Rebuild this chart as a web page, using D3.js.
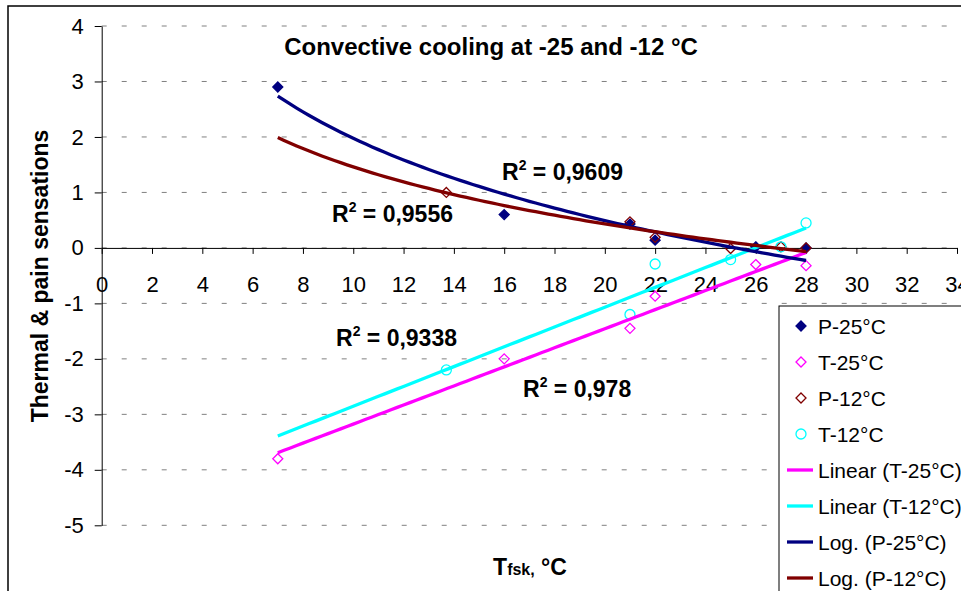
<!DOCTYPE html>
<html>
<head>
<meta charset="utf-8">
<script src="https://cdn.jsdelivr.net/npm/d3@7"></script>
<style>
    body { margin: 0; background: #fff; }
    svg { display: block; font-family: Arial, "Liberation Sans", sans-serif; }
    .grid { stroke: #808080; stroke-width: 1; stroke-dasharray: 5, 15; }
    .axis path, .axis line { stroke: #000; stroke-width: 1; }
    .axis text { font-size: 22px; fill: #000; font-family: Arial, "Liberation Sans", sans-serif; }
    .bold { font-weight: bold; }
</style>
</head>
<body>
<svg id="chart-svg" width="961" height="591"></svg>
<script>
// values
const xTicks = [0, 2, 4, 6, 8, 10, 12, 14, 16, 18, 20, 22, 24, 26, 28, 30, 32, 34];
const yTicks = [4, 3, 2, 1, 0, -1, -2, -3, -4, -5];

const xP25 = [7, 16, 21, 22, 26, 28];
const yP25 = [2.9, 0.6, 0.43, 0.14, 0.02, 0];
const xT25 = [7, 16, 21, 22, 26, 28];
const yT25 = [-3.8, -2.0, -1.45, -0.87, -0.3, -0.32];
const xP12 = [13.7, 21, 22, 25, 27, 28];
const yP12 = [1.0, 0.47, 0.19, -0.01, 0.02, 0];
const xT12 = [13.7, 21, 22, 25, 27, 28];
const yT12 = [-2.2, -1.2, -0.29, -0.21, 0.02, 0.45];

const seriesNames = ["P-25°C", "T-25°C", "P-12°C", "T-12°C"];
const trendNames = ["Linear (T-25°C)", "Linear (T-12°C)", "Log. (P-25°C)", "Log. (P-12°C)"];
const r2Labels = ["0,9609", "0,9556", "0,9338", "0,978"];
const trendRange = [7, 28];

const title = "Convective cooling at -25 and -12 °C";
const yTitle = "Thermal & pain sensations";

class Chart
{
    constructor()
    {
        this.svg = d3.select("#chart-svg");
        this.x = d3.scaleLinear().domain([0, 34]).range([101.7, 957]);
        this.y = d3.scaleLinear().domain([-5, 4]).range([525.3, 26]);
        this.colors = {navy: "#000080", magenta: "#ff00ff", darkred: "#800000", cyan: "#00ffff"};
    }

    // least squares fit, optionally on ln(x)
    fit(xs, ys, useLog)
    {
        const u = xs.map(v => useLog ? Math.log(v) : v);
        const mu = d3.mean(u), my = d3.mean(ys);
        let sxx = 0, sxy = 0;
        u.forEach((v, i) => { sxx += (v - mu) * (v - mu); sxy += (v - mu) * (ys[i] - my); });
        const a = sxy / sxx, b = my - a * mu;
        return t => a * (useLog ? Math.log(t) : t) + b;
    }

    draw()
    {
        const svg = this.svg, x = this.x, y = this.y;

        // outer chart border, only top and left are in view
        svg.append("rect")
            .attr("x", 8).attr("y", 6).attr("width", 1200).attr("height", 1200)
            .attr("fill", "none").attr("stroke", "#000").attr("stroke-width", 1.5);

        svg.selectAll(".grid")
            .data(yTicks)
            .join("line")
            .attr("class", "grid")
            .attr("x1", x(0)).attr("x2", x(34))
            .attr("y1", d => y(d)).attr("y2", d => y(d));

        svg.append("g")
            .attr("class", "axis")
            .attr("transform", `translate(${x(0)},0)`)
            .call(d3.axisLeft(y).tickValues(yTicks).tickSize(7).tickSizeOuter(0).tickPadding(11).tickFormat(d => String(d)));

        svg.append("g")
            .attr("class", "axis")
            .attr("transform", `translate(0,${y(0)})`)
            .call(d3.axisBottom(x).tickValues(xTicks).tickSize(6).tickSizeOuter(0).tickPadding(22).tickFormat(d => String(d)));

        svg.selectAll(".axis text").attr("font-family", null).attr("font-size", null);

        this.drawMarkers();
        this.drawTrends();
        this.drawLabels();
        this.drawLegend();
    }

    marker(g, type, color, cx, cy)
    {
        if (type === "circle") {
            g.append("circle").attr("cx", cx).attr("cy", cy).attr("r", 5)
                .attr("fill", "none").attr("stroke", color).attr("stroke-width", 1.3);
        } else {
            const s = 5;
            g.append("path")
                .attr("d", `M${cx},${cy - s}L${cx + s},${cy}L${cx},${cy + s}L${cx - s},${cy}Z`)
                .attr("fill", type === "filled" ? color : "none")
                .attr("stroke", color).attr("stroke-width", 1.3);
        }
    }

    drawMarkers()
    {
        const g = this.svg.append("g"), x = this.x, y = this.y, c = this.colors;
        xP25.forEach((v, i) => this.marker(g, "filled", c.navy, x(v), y(yP25[i])));
        xT25.forEach((v, i) => this.marker(g, "open", c.magenta, x(v), y(yT25[i])));
        xP12.forEach((v, i) => this.marker(g, "open", c.darkred, x(v), y(yP12[i])));
        xT12.forEach((v, i) => this.marker(g, "circle", c.cyan, x(v), y(yT12[i])));
    }

    drawTrends()
    {
        const x = this.x, y = this.y, c = this.colors;
        const ts = d3.range(trendRange[0], trendRange[1] + 0.001, 0.25);
        const trends = [
            {f: this.fit(xT25, yT25, false), color: c.magenta},
            {f: this.fit(xT12, yT12, false), color: c.cyan},
            {f: this.fit(xP25, yP25, true), color: c.navy},
            {f: this.fit(xP12, yP12, true), color: c.darkred}
        ];
        const line = d3.line().x(d => x(d[0])).y(d => y(d[1]));

        this.svg.append("g").selectAll("path")
            .data(trends)
            .join("path")
            .attr("d", d => line(ts.map(t => [t, d.f(t)])))
            .attr("fill", "none")
            .attr("stroke", d => d.color)
            .attr("stroke-width", 3.3);
    }

    drawLabels()
    {
        const svg = this.svg;

        svg.append("text")
            .attr("class", "bold")
            .attr("x", 491).attr("y", 55)
            .attr("text-anchor", "middle")
            .attr("font-size", 24)
            .text(title);

        svg.append("text")
            .attr("class", "bold")
            .attr("transform", "translate(48,276) rotate(-90)")
            .attr("text-anchor", "middle")
            .attr("font-size", 23)
            .text(yTitle);

        const xt = svg.append("text")
            .attr("class", "bold")
            .attr("x", 530).attr("y", 575)
            .attr("text-anchor", "middle")
            .attr("font-size", 23);
        xt.append("tspan").text("T");
        xt.append("tspan").attr("font-size", 16).text("fsk,");
        xt.append("tspan").text(" °C");

        const r2Pos = [[502, 180], [332, 222], [336, 346], [523, 397]];
        r2Labels.forEach((lab, i) => {
            const t = svg.append("text")
                .attr("class", "bold")
                .attr("x", r2Pos[i][0]).attr("y", r2Pos[i][1])
                .attr("font-size", 23);
            t.append("tspan").text("R");
            t.append("tspan").attr("font-size", 14).attr("dy", -10).text("2");
            t.append("tspan").attr("dy", 10).text(" = " + lab);
        });
    }

    drawLegend()
    {
        const svg = this.svg, c = this.colors;
        const g = svg.append("g");

        g.append("rect")
            .attr("x", 779).attr("y", 306).attr("width", 400).attr("height", 400)
            .attr("fill", "#fff").attr("stroke", "#000").attr("stroke-width", 1);

        const kinds = [["filled", c.navy], ["open", c.magenta], ["open", c.darkred], ["circle", c.cyan]];
        const lineColors = [c.magenta, c.cyan, c.navy, c.darkred];
        const names = seriesNames.concat(trendNames);

        names.forEach((name, i) => {
            const cy = 326 + i * 36;
            if (i < 4) {
                this.marker(g, kinds[i][0], kinds[i][1], 801, cy);
            } else {
                g.append("line")
                    .attr("x1", 787).attr("x2", 813).attr("y1", cy).attr("y2", cy)
                    .attr("stroke", lineColors[i - 4]).attr("stroke-width", 3.3);
            }
            g.append("text")
                .attr("x", 818).attr("y", cy + 7.5)
                .attr("font-size", 21)
                .text(name);
        });
    }
}

const chart = new Chart();
chart.draw();
</script>
</body>
</html>
